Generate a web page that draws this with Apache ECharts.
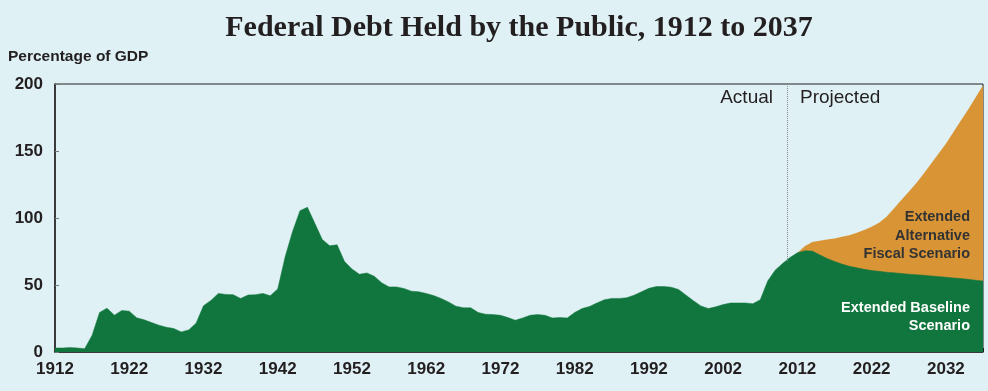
<!DOCTYPE html>
<html>
<head>
<meta charset="utf-8">
<script src="https://cdn.jsdelivr.net/npm/echarts@6/dist/echarts.min.js"></script>
<style>
html,body{margin:0;padding:0;background:#dff1f5;}
#chart{width:988px;height:391px;}
</style>
</head>
<body>
<div id="chart"></div>
<script>
// Years 1912..2037
var years = [];
for (var y = 1912; y <= 2037; y++) years.push(y);

// Actual (1912-2011) followed by Extended Baseline Scenario projection (2012-2037), % of GDP
var baseline = [
  3, 3, 3.3, 3, 2.5, 12.5, 29.5, 32.7, 27.5, 31,          // 1912-1921
  30.5, 25.5, 24, 22, 20, 18.5, 17.5, 15, 16.5, 21.5,     // 1922-1931
  34.5, 38.5, 43.7, 43, 42.8, 40, 42.5, 42.8, 43.7, 42,   // 1932-1941
  47, 71, 90, 105.5, 108, 96, 84, 79.3, 80, 67.5,         // 1942-1951
  62, 58, 59, 56.6, 51.6, 48.6, 48.6, 47.4, 45.4, 44.9,   // 1952-1961
  43.7, 42.1, 40, 37.4, 34.2, 33, 33, 29.5, 28.2, 27.9,   // 1962-1971
  27.4, 25.7, 23.7, 25.4, 27.4, 27.9, 27.4, 25.4, 25.7, 25.4, // 1972-1981
  29.5, 32.4, 34, 36.6, 39, 40, 40, 40.5, 42.4, 44.9,     // 1982-1991
  47.5, 48.8, 48.8, 48.4, 46.6, 42.4, 38.2, 34.4, 32.4, 33.7, // 1992-2001
  35.4, 36.6, 36.6, 36.6, 36, 39, 53, 61, 66, 70.5,       // 2002-2011
  74, 75.5, 75.3, 72.5, 69.8, 67.6, 65.6, 64, 62.8, 61.7, // 2012-2021
  60.8, 60.2, 59.6, 59.1, 58.6, 58.1, 57.7, 57.3, 56.8, 56.3, // 2022-2031
  55.8, 55.3, 54.8, 54.2, 53.6, 53                        // 2032-2037
];

// Extended Alternative Fiscal Scenario (2012-2037), % of GDP
var altYears = [];
for (var a = 2012; a <= 2037; a++) altYears.push(a);
var alternative = [
  74, 79, 82, 83, 84, 84.7, 86, 87.2, 89, 91,             // 2012-2021
  93.5, 96.5, 101, 107, 113.5, 119.5, 126, 133, 140.5, 148, // 2022-2031
  155.5, 164, 172.5, 181, 190, 199                        // 2032-2037
];

var yTicks = [0, 50, 100, 150, 200];
var dividerYear = 2010.65;

var baseData = years.map(function (yr, i) { return [yr, baseline[i]]; });
var altData = altYears.map(function (yr, i) { return [yr, alternative[i]]; });

var txt = '#231f20';
var labelFont = '"Liberation Sans", Arial, sans-serif';

var chart = echarts.init(document.getElementById('chart'), null, {renderer: 'canvas'});
chart.setOption({
  backgroundColor: '#dff1f5',
  animation: false,
  title: {
    text: 'Federal Debt Held by the Public, 1912 to 2037',
    left: 514, top: 8, textAlign: 'center',
    textStyle: {fontFamily: '"Liberation Serif", "Times New Roman", serif', fontSize: 30, fontWeight: 'bold', color: txt}
  },
  grid: {left: 55, right: 5, top: 84, bottom: 39, show: true, borderColor: txt, borderWidth: 1, backgroundColor: 'transparent'},
  xAxis: {
    type: 'value', min: 1912, max: 2037, interval: 5,
    axisLine: {show: true, lineStyle: {color: txt, width: 1.5}},
    axisTick: {show: true, inside: true, length: 4, lineStyle: {color: txt}},
    splitLine: {show: false},
    axisLabel: {
      margin: 9, color: txt, fontFamily: labelFont, fontSize: 17, fontWeight: 'bold',
      formatter: function (v) { return ((v - 1912) % 10 === 0 && v < 2037) ? String(v) : ''; }
    }
  },
  yAxis: {
    type: 'value', min: yTicks[0], max: yTicks[yTicks.length - 1], interval: 50,
    axisLine: {show: true, lineStyle: {color: txt, width: 1.5}},
    axisTick: {show: true, inside: true, length: 4, lineStyle: {color: '#777'}},
    splitLine: {show: false},
    axisLabel: {margin: 12, color: txt, fontFamily: labelFont, fontSize: 17, fontWeight: 'bold'}
  },
  graphic: [
    {type: 'text', x: 8, y: 49, z: 100, style: {text: 'Percentage of GDP', fill: txt, font: 'bold 15.5px ' + labelFont}},
    {type: 'text', x: 773, y: 88, z: 100, style: {text: 'Actual', fill: txt, font: '19px ' + labelFont, align: 'right'}},
    {type: 'text', x: 800, y: 88, z: 100, style: {text: 'Projected', fill: txt, font: '19px ' + labelFont}},
    {type: 'text', x: 970, y: 208, z: 100, style: {text: 'Extended\nAlternative\nFiscal Scenario', fill: '#333333', font: 'bold 14.5px ' + labelFont, align: 'right', lineHeight: 18.5}},
    {type: 'text', x: 970, y: 299, z: 100, style: {text: 'Extended Baseline\nScenario', fill: '#ffffff', font: 'bold 14.5px ' + labelFont, align: 'right', lineHeight: 18}}
  ],
  series: [
    {
      name: 'Extended Alternative Fiscal Scenario', type: 'line', data: altData,
      symbol: 'none', smooth: false, z: 2,
      lineStyle: {width: 0, color: '#d99535'},
      areaStyle: {color: '#d99535', opacity: 1}
    },
    {
      name: 'Extended Baseline Scenario', type: 'line', data: baseData,
      symbol: 'none', smooth: false, z: 3,
      lineStyle: {width: 0.5, color: '#11763d'},
      areaStyle: {color: '#11763d', opacity: 1},
      markLine: {
        silent: true, symbol: 'none', label: {show: false},
        lineStyle: {type: 'dotted', color: '#888', width: 1},
        data: [[{coord: [dividerYear, 200]}, {coord: [dividerYear, 67]}]]
      }
    }
  ]
});
</script>
</body>
</html>
